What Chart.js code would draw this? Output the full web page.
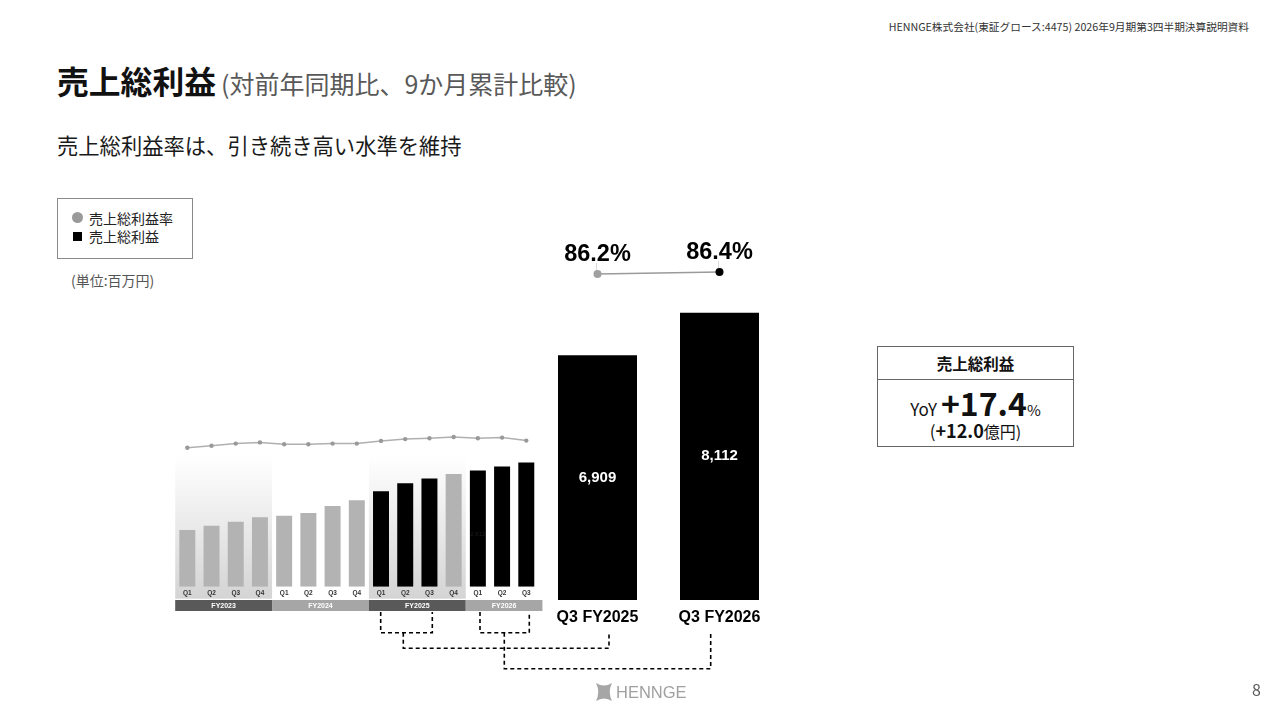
<!DOCTYPE html>
<html>
<head>
<meta charset="utf-8">
<script src="https://cdn.jsdelivr.net/npm/chart.js@4.4.1/dist/chart.umd.min.js"></script>
<style>
html,body{margin:0;padding:0;width:1280px;height:720px;overflow:hidden;background:#fff;font-family:"Noto Sans CJK JP","Noto Sans",sans-serif;color:#1a1a1a;}
.abs{position:absolute;white-space:nowrap;}
canvas{position:absolute;left:0;top:0;}
</style>
</head>
<body>
<div class="abs" style="right:31px;top:19px;font-size:10.7px;line-height:16px;color:#333;">HENNGE株式会社(東証グロース:4475) 2026年9月期第3四半期決算説明資料</div>
<div class="abs" style="left:57px;top:60px;line-height:40px;"><span style="font-size:31.8px;font-weight:bold;color:#111;">売上総利益</span><span style="font-size:25px;color:#595959;margin-left:5px;">(対前年同期比、9か月累計比較)</span></div>
<div class="abs" style="left:57px;top:130px;font-size:21.3px;line-height:30px;color:#1a1a1a;">売上総利益率は、引き続き高い水準を維持</div>

<div class="abs" style="left:57px;top:198px;width:134px;height:59px;border:1px solid #8a8a8a;"></div>
<div class="abs" style="left:72px;top:212px;width:11px;height:11px;border-radius:50%;background:#9a9a9a;"></div>
<div class="abs" style="left:89px;top:208px;font-size:14px;line-height:20px;color:#222;">売上総利益率</div>
<div class="abs" style="left:73px;top:232px;width:9px;height:9px;background:#000;"></div>
<div class="abs" style="left:89px;top:226px;font-size:14px;line-height:20px;color:#222;">売上総利益</div>
<div class="abs" style="left:71px;top:270px;font-size:14px;line-height:20px;color:#555;">(単位:百万円)</div>

<div class="abs" style="left:877px;top:346px;width:195px;height:99px;border:1px solid #666;"></div>
<div class="abs" style="left:878px;top:379px;width:195px;height:1px;background:#666;"></div>
<div class="abs" style="left:877px;top:351px;width:197px;text-align:center;font-size:15.5px;font-weight:bold;line-height:24px;color:#111;">売上総利益</div>
<div class="abs" style="left:877px;top:382px;width:197px;text-align:center;line-height:40px;color:#111;"><span style="font-size:17px;">YoY</span><span style="font-size:32px;font-weight:bold;margin-left:4px;">+17.4</span><span style="font-size:15px;">%</span></div>
<div class="abs" style="left:877px;top:418px;width:197px;text-align:center;line-height:24px;color:#111;"><span style="font-size:17px;">(</span><span style="font-size:18px;font-weight:bold;">+12.0</span><span style="font-size:16px;">億円)</span></div>

<canvas id="small" width="1280" height="720"></canvas>
<canvas id="big" width="1280" height="720"></canvas>

<svg class="abs" style="left:0;top:0;" width="1280" height="720">
  <g fill="none" stroke="#000" stroke-width="1.6" stroke-dasharray="4 3">
    <path d="M380.7,612 V632.7 H432.3 V612"/>
    <path d="M403.3,632.7 V648.3 H609 V632.7"/>
    <path d="M480,612 V632.7 H529.3 V612"/>
    <path d="M504.3,632.7 V668.7 H710.7 V632.7"/>
  </g>
  <path d="M596,683 Q604,688 612,683 Q607.5,692 612,701 Q604,696 596,701 Q600.5,692 596,683 Z" fill="#a6a6a6"/>
</svg>
<div class="abs" style="left:616px;top:681px;font-family:'Liberation Sans',Arial,sans-serif;font-size:16.5px;line-height:22px;color:#a0a0a0;">HENNGE</div>
<div class="abs" style="left:1252px;top:678px;font-size:16px;line-height:22px;color:#595959;">8</div>

<script>
// ---- data ----
const quarterLabels = ['Q1','Q2','Q3','Q4','Q1','Q2','Q3','Q4','Q1','Q2','Q3','Q4','Q1','Q2','Q3'];
const fiscalYears = ['FY2023','FY2024','FY2025','FY2026'];
const quarterFiscalYear = [0,0,0,0,1,1,1,1,2,2,2,2,3,3,3];
const quarterlyGrossProfit = [1276,1372,1463,1561,1598,1658,1816,1944,2150,2325,2434,2536,2612,2705,2795];
const quarterlyGrossMargin = [83.4,84.1,84.8,85.2,84.6,84.6,84.8,84.8,85.7,86.3,86.6,87.0,86.6,86.8,85.8];
const compareLabels = ['Q3 FY2025','Q3 FY2026'];
const cumulativeGrossProfit = [6909,8112];
const cumulativeGrossMargin = [86.2,86.4];
const hiddenValueIndex = 12;

// ---- small quarterly chart ----
const smallColors = quarterLabels.map((q,i)=> (quarterFiscalYear[i]>=2 && q!=='Q4') ? '#000000' : '#b3b3b3');

const smallDecor = {
  id:'smallDecor',
  beforeDatasetsDraw(chart){
    const {ctx, scales:{x}, chartArea} = chart;
    const slot = x.width / quarterLabels.length;
    ctx.save();
    fiscalYears.forEach((fy, k)=>{
      if (k % 2 !== 0) return;
      const idx = quarterFiscalYear.map((v,i)=>v===k?i:-1).filter(i=>i>=0);
      const x0 = x.getPixelForValue(idx[0]) - slot/2;
      const x1 = x.getPixelForValue(idx[idx.length-1]) + slot/2;
      const g = ctx.createLinearGradient(0, chartArea.top+26, 0, chartArea.bottom+12);
      g.addColorStop(0,'rgba(255,255,255,1)');
      g.addColorStop(1,'rgba(212,212,212,1)');
      ctx.fillStyle = g;
      ctx.fillRect(x0, chartArea.top+26, x1-x0, chartArea.bottom+12-(chartArea.top+26));
    });
    ctx.restore();
  },
  afterDraw(chart){
    const {ctx, scales:{x,y}, chartArea} = chart;
    const slot = x.width / quarterLabels.length;
    ctx.save();
    ctx.textAlign='center'; ctx.textBaseline='middle';
    ctx.font = "bold 6.5px 'Liberation Sans', Arial, sans-serif";
    ctx.fillStyle = '#333';
    quarterLabels.forEach((q,i)=>{ ctx.fillText(q, x.getPixelForValue(i), chartArea.bottom+6.5); });
    fiscalYears.forEach((fy,k)=>{
      const idx = quarterFiscalYear.map((v,i)=>v===k?i:-1).filter(i=>i>=0);
      const x0 = x.getPixelForValue(idx[0]) - slot/2;
      let x1 = x.getPixelForValue(idx[idx.length-1]) + slot/2;
      if (k === fiscalYears.length-1) x1 += 4;
      ctx.fillStyle = (k%2===0) ? '#595959' : '#a6a6a6';
      ctx.fillRect(x0, chartArea.bottom+13.3, x1-x0, 11);
      ctx.fillStyle = '#fff';
      ctx.font = "bold 7px 'Liberation Sans', Arial, sans-serif";
      ctx.fillText(fy, (x0+x1)/2, chartArea.bottom+19);
    });
    ctx.fillStyle = '#1e1e1e';
    ctx.font = "6px 'Liberation Sans', Arial, sans-serif";
    const v = quarterlyGrossProfit[hiddenValueIndex];
    ctx.fillText(v.toLocaleString('en-US'), x.getPixelForValue(hiddenValueIndex), y.getPixelForValue(v/2)+6);
    ctx.restore();
  }
};

const smallChart = new Chart(document.getElementById('small'), {
  type:'bar',
  data:{
    labels: quarterLabels,
    datasets:[
      {type:'line', data: quarterlyGrossMargin, yAxisID:'yr', borderColor:'#b0b0b0', borderWidth:1.5,
       pointRadius:2.2, pointBackgroundColor:'#999', pointBorderWidth:0, tension:0, order:0},
      {type:'bar', data: quarterlyGrossProfit, yAxisID:'y', backgroundColor: smallColors,
       categoryPercentage:1, barPercentage:0.66, order:1}
    ]
  },
  options:{
    responsive:false, animation:false, devicePixelRatio:1,
    layout:{padding:{left:175.2, top:430, right:1280-538.4, bottom:720-586.7}},
    plugins:{legend:{display:false}, tooltip:{enabled:false}},
    scales:{
      x:{display:false, offset:true},
      y:{display:false, min:0, max:3526},
      yr:{display:false, min:37.1, max:89.33}
    }
  },
  plugins:[smallDecor]
});

// ---- big cumulative chart ----
const bigDecor = {
  id:'bigDecor',
  afterDatasetsDraw(chart){
    const {ctx, scales:{x,y,yr}, chartArea} = chart;
    ctx.save();
    ctx.textAlign='center'; ctx.textBaseline='middle';
    cumulativeGrossProfit.forEach((v,i)=>{
      const px = x.getPixelForValue(i);
      ctx.fillStyle='#fff';
      ctx.font="bold 15px 'Liberation Sans', Arial, sans-serif";
      ctx.fillText(v.toLocaleString('en-US'), px, (y.getPixelForValue(v)+y.getPixelForValue(0))/2);
      ctx.fillStyle='#000';
      ctx.font="bold 16px 'Liberation Sans', Arial, sans-serif";
      ctx.fillText(compareLabels[i], px, chartArea.bottom+18);
    });
    cumulativeGrossMargin.forEach((r,i)=>{
      const px = x.getPixelForValue(i);
      const py = yr.getPixelForValue(r);
      ctx.strokeStyle='#d0d0d0'; ctx.lineWidth=0.8;
      ctx.beginPath(); ctx.moveTo(px-1, py-11); ctx.lineTo(px-1, py-4); ctx.stroke();
      ctx.fillStyle='#000';
      ctx.font="bold 23.5px 'Liberation Sans', Arial, sans-serif";
      ctx.fillText(r.toFixed(1)+'%', px, py-19);
    });
    ctx.restore();
  }
};

const bigChart = new Chart(document.getElementById('big'), {
  type:'bar',
  data:{
    labels: compareLabels,
    datasets:[
      {type:'line', data: cumulativeGrossMargin, yAxisID:'yr', borderColor:'#9a9a9a', borderWidth:1.5,
       pointRadius:4, pointBackgroundColor:['#a0a0a0','#000'], pointBorderWidth:0, order:0},
      {type:'bar', data: cumulativeGrossProfit, yAxisID:'y', backgroundColor:'#000',
       categoryPercentage:1, barPercentage:0.6475, order:1}
    ]
  },
  options:{
    responsive:false, animation:false, devicePixelRatio:1,
    layout:{padding:{left:536.5, top:240, right:1280-780.5, bottom:120}},
    plugins:{legend:{display:false}, tooltip:{enabled:false}},
    scales:{
      x:{display:false, offset:true},
      y:{display:false, min:0, max:10163},
      yr:{display:false, min:53.6, max:89.6}
    }
  },
  plugins:[bigDecor]
});
</script>
</body>
</html>
